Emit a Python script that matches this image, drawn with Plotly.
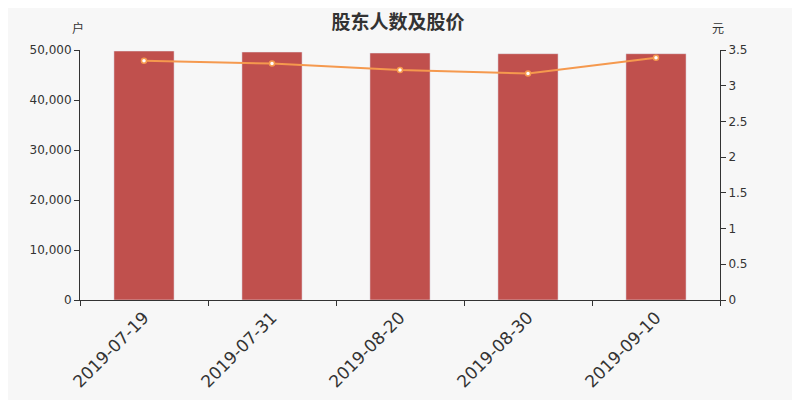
import plotly.graph_objects as go

dates = ["2019-07-19", "2019-07-31", "2019-08-20", "2019-08-30", "2019-09-10"]
holders = [49800, 49600, 49400, 49260, 49260]
prices = [3.35, 3.31, 3.22, 3.17, 3.39]

bar_color = "#c0504d"
line_color = "#f5994e"
axis_color = "#333333"

fig = go.Figure()

fig.add_bar(x=dates, y=holders, marker_color=bar_color, width=0.47, name="股东人数")

fig.add_scatter(x=dates, y=prices, yaxis="y2", mode="lines+markers",
                line=dict(color=line_color, width=2),
                marker=dict(color="white", size=5, line=dict(color=line_color, width=1.5)),
                name="股价")

# page has an 8px body margin, so everything is shifted up/left by 8px
fig.update_layout(
    width=800, height=400,
    paper_bgcolor="#f7f7f7", plot_bgcolor="#f7f7f7",
    margin=dict(l=72, r=88, t=42, b=108),
    showlegend=False,
    font=dict(family="DejaVu Sans, Noto Sans CJK SC", color=axis_color, size=12),
    title=dict(text="<b>股东人数及股价</b>", x=0.4875, xanchor="center", y=0.98, yanchor="top",
               font=dict(family="Noto Sans CJK SC", size=19, color="#333333")),
    xaxis=dict(type="category", showline=True, linecolor=axis_color, linewidth=1,
               ticks="outside", tickson="boundaries", ticklen=5, tickcolor=axis_color,
               tickangle=-45, tickfont=dict(size=17), showgrid=False),
    yaxis=dict(range=[0, 50000], dtick=10000, tickformat=",", showline=True,
               linecolor=axis_color, ticks="outside", ticklen=5, tickcolor=axis_color,
               showgrid=False, zeroline=False),
    yaxis2=dict(range=[0, 3.5], dtick=0.5, overlaying="y", side="right", showline=True,
                linecolor=axis_color, ticks="outside", ticklen=5, tickcolor=axis_color,
                showgrid=False, zeroline=False),
)

fig.add_annotation(text="户", xref="paper", yref="paper", x=-0.003, y=1.088,
                   xanchor="center", yanchor="middle",
                   showarrow=False, font=dict(size=12, family="Noto Sans CJK SC"))
fig.add_annotation(text="元", xref="paper", yref="paper", x=0.997, y=1.088,
                   xanchor="center", yanchor="middle",
                   showarrow=False, font=dict(size=12, family="Noto Sans CJK SC"))

fig.write_html("out.html")
